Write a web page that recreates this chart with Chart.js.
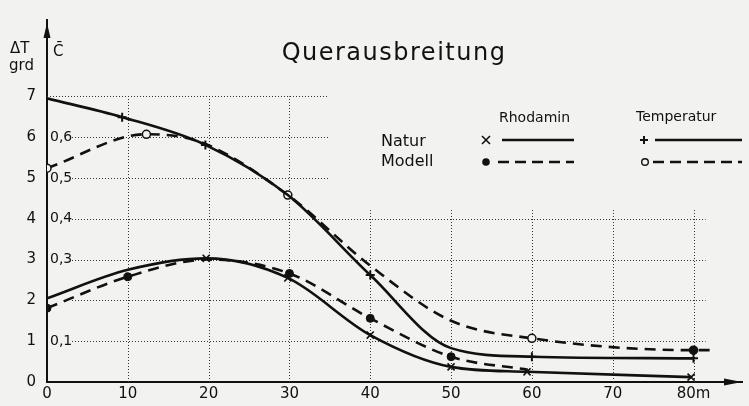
<!DOCTYPE html>
<html>
<head>
<meta charset="utf-8">
<script src="https://cdn.jsdelivr.net/npm/chart.js@4/dist/chart.umd.min.js"></script>
<style>
  html, body { margin: 0; padding: 0; background: #f2f2f0; }
  canvas { display: block; }
</style>
</head>
<body>
<canvas id="grafica" width="749" height="406"></canvas>
<script>
// x = Entfernung (m), y = ΔT (grd) bzw. C̄ * 10
const xTickLabels = ["0", "10", "20", "30", "40", "50", "60", "70", "80m"];
const yTickLabels = ["0", "1", "2", "3", "4", "5", "6", "7"];
const cTickLabels = ["", "0,1", "", "0,3", "0,4", "0,5", "0,6", ""];

const rhodNaturX = [0, 10, 19.7, 29.8, 40, 50, 59.4, 79.7];
const rhodNaturY = [2.05, 2.75, 3.03, 2.55, 1.15, 0.37, 0.25, 0.12];
const rhodNaturMess = [0, 0, 1, 1, 1, 1, 1, 1];

const rhodModellX = [0, 10, 20, 30, 40, 50, 59.5];
const rhodModellY = [1.81, 2.58, 3.0, 2.66, 1.56, 0.62, 0.3];
const rhodModellMess = [1, 1, 0, 1, 1, 1, 0];

const tempNaturX = [0, 9.3, 19.6, 29.8, 40, 50, 60, 80];
const tempNaturY = [6.95, 6.49, 5.81, 4.58, 2.62, 0.83, 0.62, 0.58];
const tempNaturMess = [0, 1, 1, 0, 1, 0, 1, 1];

const tempModellX = [0, 12.3, 19, 29.8, 40, 50, 60, 80, 82.5];
const tempModellY = [5.24, 6.07, 5.88, 4.58, 2.85, 1.5, 1.07, 0.78, 0.78];
const tempModellMess = [1, 1, 0, 1, 0, 0, 1, 1, 0];

const schwarz = "#111";
const schrift = "DejaVu Sans";

function punkte(xs, ys) {
  return xs.map((x, i) => ({ x: x, y: ys[i] }));
}

const papier = {
  id: "papier",
  beforeDraw(chart) {
    const ctx = chart.ctx;
    ctx.save();
    ctx.fillStyle = "#f2f2f0";
    ctx.fillRect(0, 0, chart.width, chart.height);
    ctx.restore();
  },
  beforeDatasetsDraw(chart) {
    const ctx = chart.ctx;
    const sx = chart.scales.x;
    const sy = chart.scales.y;
    ctx.save();
    ctx.strokeStyle = "#333";
    ctx.lineWidth = 1;
    ctx.setLineDash([1, 2]);
    // waagrechte Linien
    for (let v = 1; v <= 7; v++) {
      const y = Math.round(sy.getPixelForValue(v)) + 0.5;
      let x1 = v === 7 ? sx.getPixelForValue(0) : 72;
      let x2 = v >= 5 ? sx.getPixelForValue(34.8) : sx.getPixelForValue(81.5);
      ctx.beginPath();
      ctx.moveTo(x1, y);
      ctx.lineTo(x2, y);
      ctx.stroke();
    }
    // senkrechte Linien
    for (let v = 10; v <= 80; v += 10) {
      const x = Math.round(sx.getPixelForValue(v)) + 0.5;
      const top = v <= 30 ? 7 : 4.25;
      ctx.beginPath();
      ctx.moveTo(x, sy.getPixelForValue(0));
      ctx.lineTo(x, sy.getPixelForValue(top));
      ctx.stroke();
    }
    ctx.setLineDash([]);

    // C-Skala
    ctx.fillStyle = schwarz;
    ctx.font = "14px " + schrift;
    ctx.textBaseline = "middle";
    ctx.textAlign = "left";
    cTickLabels.forEach((t, v) => {
      if (t) ctx.fillText(t, 50, sy.getPixelForValue(v));
    });
    ctx.restore();
  },
  afterDraw(chart) {
    const ctx = chart.ctx;
    const sx = chart.scales.x;
    const sy = chart.scales.y;
    const x0 = sx.getPixelForValue(0);
    const y0 = sy.getPixelForValue(0);
    ctx.save();
    ctx.fillStyle = schwarz;
    ctx.strokeStyle = schwarz;

    // Pfeile
    ctx.beginPath();
    ctx.moveTo(x0, chart.chartArea.top + 3);
    ctx.lineTo(x0 - 3.5, chart.chartArea.top + 18);
    ctx.lineTo(x0 + 3.5, chart.chartArea.top + 18);
    ctx.closePath();
    ctx.fill();
    const xr = chart.chartArea.right;
    ctx.beginPath();
    ctx.moveTo(xr, y0);
    ctx.lineTo(xr - 18, y0 - 3.5);
    ctx.lineTo(xr - 18, y0 + 3.5);
    ctx.closePath();
    ctx.fill();

    // Titel
    ctx.font = "24px " + schrift;
    ctx.letterSpacing = "1.5px";
    ctx.textAlign = "center";
    ctx.textBaseline = "alphabetic";
    ctx.fillText("Querausbreitung", 394, 60);
    ctx.letterSpacing = "0px";

    // Achsentitel
    ctx.font = "15px " + schrift;
    ctx.textAlign = "left";
    ctx.textBaseline = "middle";
    ctx.fillText("ΔT", 10, 49);
    ctx.fillText("grd", 9, 66);
    ctx.fillText("C̄", 53, 52);

    // Legende
    ctx.font = "14px " + schrift;
    ctx.fillText("Rhodamin", 499, 118);
    ctx.fillText("Temperatur", 636, 117);
    ctx.font = "16px " + schrift;
    ctx.fillText("Natur", 381, 142);
    ctx.fillText("Modell", 381, 162);

    ctx.lineWidth = 2.6;
    ctx.beginPath();
    ctx.moveTo(502, 140); ctx.lineTo(574, 140);
    ctx.moveTo(655, 140); ctx.lineTo(742, 140);
    ctx.stroke();
    ctx.setLineDash([11, 6]);
    ctx.beginPath();
    ctx.moveTo(498, 162); ctx.lineTo(574, 162);
    ctx.moveTo(653, 162); ctx.lineTo(742, 162);
    ctx.stroke();
    ctx.setLineDash([]);

    ctx.lineWidth = 1.6;
    ctx.beginPath();
    ctx.moveTo(482, 136); ctx.lineTo(490, 144);
    ctx.moveTo(490, 136); ctx.lineTo(482, 144);
    ctx.stroke();
    ctx.lineWidth = 2;
    ctx.beginPath();
    ctx.moveTo(640, 140); ctx.lineTo(648, 140);
    ctx.moveTo(644, 136); ctx.lineTo(644, 144);
    ctx.stroke();
    ctx.beginPath();
    ctx.arc(486, 162, 3.8, 0, Math.PI * 2);
    ctx.fill();
    ctx.lineWidth = 1.4;
    ctx.fillStyle = "#f2f2f0";
    ctx.beginPath();
    ctx.arc(645, 162, 3.3, 0, Math.PI * 2);
    ctx.fill();
    ctx.stroke();
    ctx.restore();
  }
};

const kurve = {
  borderColor: schwarz,
  borderWidth: 2.6,
  cubicInterpolationMode: "monotone",
  pointBorderColor: schwarz,
  fill: false
};

new Chart(document.getElementById("grafica"), {
  type: "line",
  data: {
    datasets: [
      Object.assign({}, kurve, {
        label: "Natur Rhodamin",
        data: punkte(rhodNaturX, rhodNaturY),
        pointStyle: "crossRot",
        pointRadius: rhodNaturMess.map((m) => (m ? 5 : 0)),
        pointBorderWidth: 1.6
      }),
      Object.assign({}, kurve, {
        label: "Modell Rhodamin",
        data: punkte(rhodModellX, rhodModellY),
        borderDash: [11, 7],
        pointStyle: "circle",
        pointRadius: rhodModellMess.map((m) => (m ? 4 : 0)),
        pointBackgroundColor: schwarz,
        pointBorderWidth: 1
      }),
      Object.assign({}, kurve, {
        label: "Natur Temperatur",
        data: punkte(tempNaturX, tempNaturY),
        pointStyle: "cross",
        pointRadius: tempNaturMess.map((m) => (m ? 4.5 : 0)),
        pointBorderWidth: 2
      }),
      Object.assign({}, kurve, {
        label: "Modell Temperatur",
        data: punkte(tempModellX, tempModellY),
        borderDash: [11, 7],
        pointStyle: "circle",
        pointRadius: tempModellMess.map((m) => (m ? 4 : 0)),
        pointBackgroundColor: tempModellX.map((x) => (x === 80 ? schwarz : "#f2f2f0")),
        pointBorderWidth: 1.5
      })
    ]
  },
  options: {
    responsive: false,
    animation: false,
    devicePixelRatio: 1,
    layout: { padding: { top: 20, right: 7, left: 0, bottom: 0 } },
    plugins: {
      legend: { display: false },
      tooltip: { enabled: false }
    },
    scales: {
      x: {
        type: "linear",
        min: 0,
        max: 86,
        grid: { display: false, drawTicks: false },
        border: { color: schwarz, width: 2 },
        ticks: {
          stepSize: 10,
          autoSkip: false,
          maxRotation: 0,
          padding: 3,
          color: schwarz,
          font: { family: schrift, size: 15 },
          callback: (v) => (v % 10 === 0 && v <= 80 ? xTickLabels[v / 10] : null)
        },
        afterFit: (s) => { s.height = 24; }
      },
      y: {
        min: 0,
        max: 8.87,
        grid: { display: false, drawTicks: false },
        border: { color: schwarz, width: 2 },
        ticks: {
          stepSize: 1,
          autoSkip: false,
          padding: 11,
          color: schwarz,
          font: { family: schrift, size: 15 },
          callback: (v) => (Number.isInteger(v) && v <= 7 ? yTickLabels[v] : null)
        },
        afterFit: (s) => { s.width = 47; }
      }
    }
  },
  plugins: [papier]
});
</script>
</body>
</html>
